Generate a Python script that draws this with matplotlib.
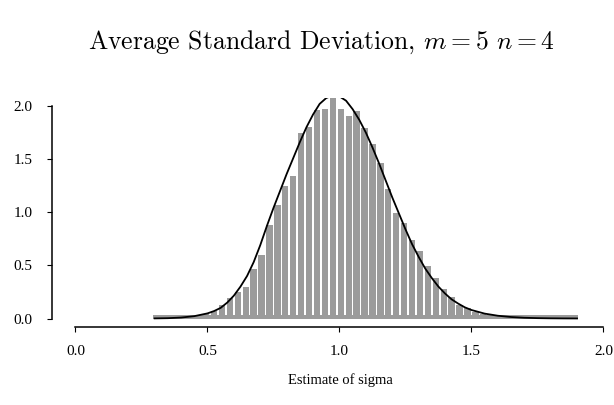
import numpy as np
import matplotlib
matplotlib.use("Agg")
import matplotlib.pyplot as plt

# Histogram of simulated estimates (density scale), bins of width 0.03
bin_width = 0.03
bar_centers = np.round(np.arange(0.465, 1.666, bin_width), 3)
bar_heights = [
    0.030, 0.047, 0.070, 0.125, 0.190, 0.250, 0.300, 0.470, 0.600, 0.880,
    1.070, 1.250, 1.340, 1.750, 1.800, 1.960, 1.970, 2.080, 1.970, 1.910,
    1.950, 1.790, 1.640, 1.460, 1.220, 0.990, 0.900, 0.740, 0.640, 0.490,
    0.380, 0.280, 0.200, 0.130, 0.095, 0.065, 0.047, 0.035, 0.025, 0.018,
    0.012,
]
# smallest and largest simulated estimate
sample_min = 0.295
sample_max = 1.903

# Theoretical density of the estimator
curve_x = [0.30, 0.35, 0.40, 0.45, 0.50, 0.525, 0.55, 0.575, 0.60, 0.625,
           0.65, 0.675, 0.70, 0.725, 0.75, 0.775, 0.80, 0.825, 0.85, 0.875,
           0.90, 0.925, 0.95, 0.975, 1.00, 1.025, 1.05, 1.075, 1.10, 1.125,
           1.15, 1.175, 1.20, 1.225, 1.25, 1.275, 1.30, 1.325, 1.35, 1.375,
           1.40, 1.425, 1.45, 1.475, 1.50, 1.55, 1.60, 1.65, 1.70, 1.75,
           1.80, 1.85, 1.90]
curve_y = [0.001, 0.003, 0.009, 0.022, 0.048, 0.070, 0.100, 0.150, 0.215, 0.300,
           0.400, 0.530, 0.690, 0.870, 1.040, 1.200, 1.360, 1.510, 1.660, 1.800,
           1.920, 2.020, 2.075, 2.100, 2.090, 2.050, 1.970, 1.870, 1.750, 1.610,
           1.460, 1.300, 1.140, 0.990, 0.840, 0.700, 0.580, 0.470, 0.380, 0.300,
           0.235, 0.180, 0.140, 0.105, 0.080, 0.046, 0.026, 0.014, 0.007, 0.0035,
           0.0017, 0.0008, 0.0004]

x_ticks = [0.0, 0.5, 1.0, 1.5, 2.0]
y_ticks = [0.0, 0.5, 1.0, 1.5, 2.0]
tick_labels = ["0.0", "0.5", "1.0", "1.5", "2.0"]

plt.rcParams["mathtext.fontset"] = "cm"

W, H = 614, 405
fig = plt.figure(figsize=(W / 100, H / 100), dpi=100)

# plot region (extends slightly past the right edge of the canvas)
left_px, right_px = 51.7, 627.2
top_px, bottom_px = 97.5, 327.0
ax = fig.add_axes([left_px / W, 1 - bottom_px / H,
                   (right_px - left_px) / W, (bottom_px - top_px) / H])
ax.set_xlim(-0.09, 2.09)
ax.set_ylim(-0.08, 2.08)

bar_color = "#9b9b9b"
# range of the sample shown as a thin band along the baseline
ax.bar(sample_min, 0.035, width=sample_max - sample_min, align="edge",
       color=bar_color, linewidth=0)
ax.bar(bar_centers, bar_heights, width=bin_width * 0.8, color=bar_color,
       linewidth=0)
ax.plot(curve_x, curve_y, color="black", lw=1.3)

for side in ("top", "right"):
    ax.spines[side].set_visible(False)
for side in ("left", "bottom"):
    ax.spines[side].set_linewidth(1.1)
    ax.spines[side].set_bounds(0, 2)

tick_font = dict(family="Liberation Serif", size=11)
ax.set_xticks(x_ticks)
ax.set_xticklabels(tick_labels, **tick_font)
ax.set_yticks(y_ticks)
ax.set_yticklabels(tick_labels, **tick_font)
ax.tick_params(axis="both", direction="out", length=3.6, width=0.8)
ax.tick_params(axis="x", pad=9.5)
ax.tick_params(axis="y", pad=10)

fig.text(340 / W, 1 - 380 / H, "Estimate of sigma", ha="center", va="center",
         family="Liberation Serif", size=10.5)
fig.text(322 / W, 1 - 42 / H, "Average Standard Deviation, $m=5$ $n=4$",
         ha="center", va="center", family="cmr10", size=18.5)

fig.savefig("out.png", dpi=100)
